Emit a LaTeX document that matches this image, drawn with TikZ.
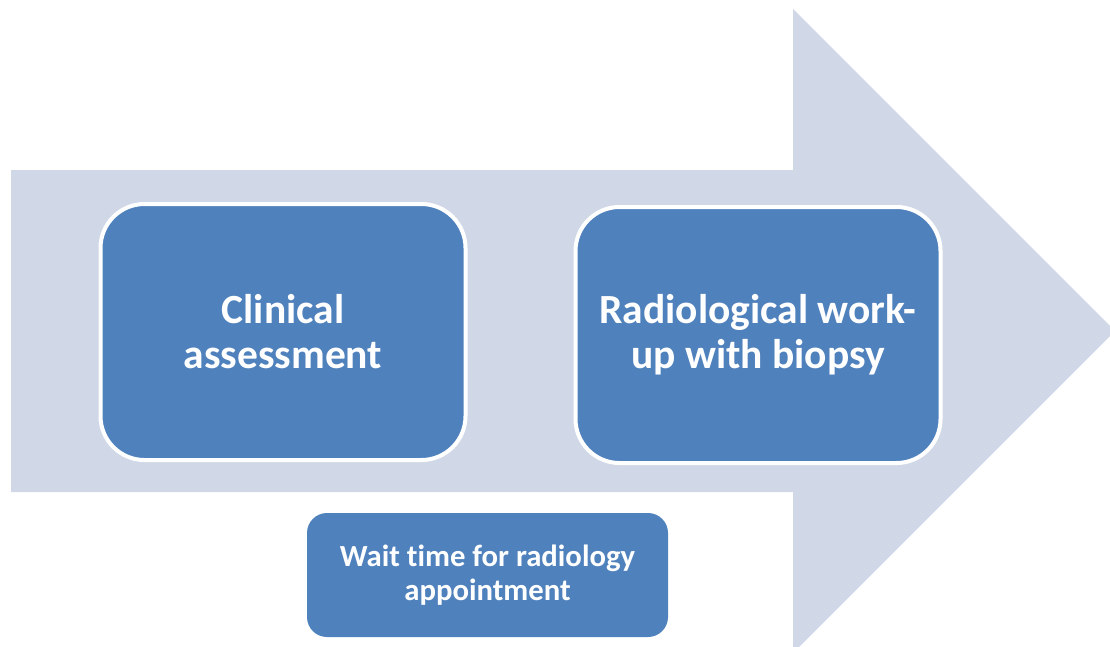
\documentclass[tikz,border=0pt]{standalone}
\usepackage{fontspec}
\setmainfont{Carlito}[RawFeature=-liga]
\definecolor{arrowfill}{HTML}{D0D8E8}
\definecolor{boxfill}{HTML}{4F81BD}
\tikzset{
  stagebox/.style={draw=white, line width=4pt, fill=boxfill, rounded corners=44pt,
    minimum width=365pt, minimum height=256pt, align=center, text=white,
    font=\fontsize{41.5}{45}\selectfont\bfseries},
  notebox/.style={fill=boxfill, rounded corners=20pt,
    minimum width=361pt, minimum height=124pt, align=center, text=white,
    font=\fontsize{30.7}{34}\selectfont\bfseries}
}
\begin{document}
\begin{tikzpicture}[x=1pt,y=-1pt]
  \useasboundingbox (0,0) rectangle (1110,646);
  \clip (0,0) rectangle (1110,646);
  % process arrow
  \fill[arrowfill] (11,170) -- (793,170) -- (793,9) -- (1115,331)
    -- (793,653) -- (793,492) -- (11,492) -- cycle;
  % stages
  \node[stagebox] (clin) at (283,332) {Clinical\\assessment};
  \node[stagebox] (radio) at (758,335) {Radiological work-\\up with biopsy};
  \node[notebox] (wait) at (487.5,575) {Wait time for radiology\\appointment};
\end{tikzpicture}
\end{document}
